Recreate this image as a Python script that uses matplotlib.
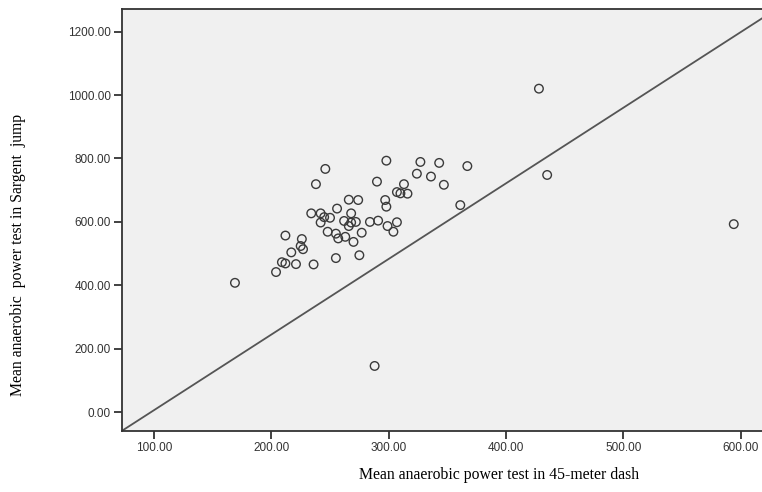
import numpy as np
import matplotlib.pyplot as plt

# Mean anaerobic power: 45-meter dash (x) vs Sargent jump (y)
dash = [169, 204, 209, 212, 221, 236, 217, 212, 226, 225, 227,
        234, 242, 245, 250, 242, 238, 246, 256, 268, 262, 268,
        272, 266, 266, 274, 248, 255, 257, 263, 270, 255, 275,
        277, 284, 291, 299, 307, 304, 290, 298, 297, 298, 307,
        310, 316, 313, 324, 336, 347, 327, 343, 367, 361, 428,
        435, 594, 288]
jump = [408, 442, 473, 469, 467, 466, 504, 557, 546, 524, 514,
        627, 627, 615, 613, 598, 719, 767, 642, 627, 603, 598,
        600, 587, 670, 669, 569, 563, 548, 553, 537, 486, 495,
        566, 600, 604, 587, 599, 569, 727, 793, 669, 648, 694,
        690, 689, 719, 752, 743, 717, 789, 786, 776, 653, 1020,
        748, 593, 146]

xticks = [100, 200, 300, 400, 500, 600]
yticks = [0, 200, 400, 600, 800, 1000, 1200]

fig = plt.figure(figsize=(7.62, 4.92), dpi=100)
# the plot runs past the right edge of the picture, like the cropped original
ax = fig.add_axes([0.1597, 0.124, 0.8587, 0.857])
ax.set_facecolor('#f0f0f0')

ax.scatter(dash, jump, s=38, facecolors='none', edgecolors='#3a3a3a',
           linewidths=1.0, zorder=3)

# reference line, corner to corner
ax.plot([0, 1], [0, 1], transform=ax.transAxes, color='#555555', lw=1.3, zorder=2)

ax.set_xlim(72.5, 630)
ax.set_ylim(-59, 1270)
ax.set_xticks(xticks)
ax.set_yticks(yticks)
ax.set_xticklabels(['%.2f' % v for v in xticks])
ax.set_yticklabels(['%.2f' % v for v in yticks])

for s in ['left', 'bottom', 'top']:
    ax.spines[s].set_color('#333333')
    ax.spines[s].set_linewidth(1.3)
ax.spines['right'].set_visible(False)

ax.tick_params(direction='out', length=6, width=1.3, color='#333333',
               labelsize=8.5, labelcolor='#333333', pad=2)
for lab in ax.get_xticklabels() + ax.get_yticklabels():
    lab.set_family('Liberation Sans')

fig.text(499 / 762, 1 - 475 / 492, 'Mean anaerobic power test in 45-meter dash',
         ha='center', va='center', family='Liberation Serif', fontsize=11.3)
fig.text(18 / 762, 1 - 255 / 492, 'Mean anaerobic  power test in Sargent  jump',
         ha='center', va='center', rotation=90, family='Liberation Serif', fontsize=11.3)

fig.savefig('out.png', dpi=100)
